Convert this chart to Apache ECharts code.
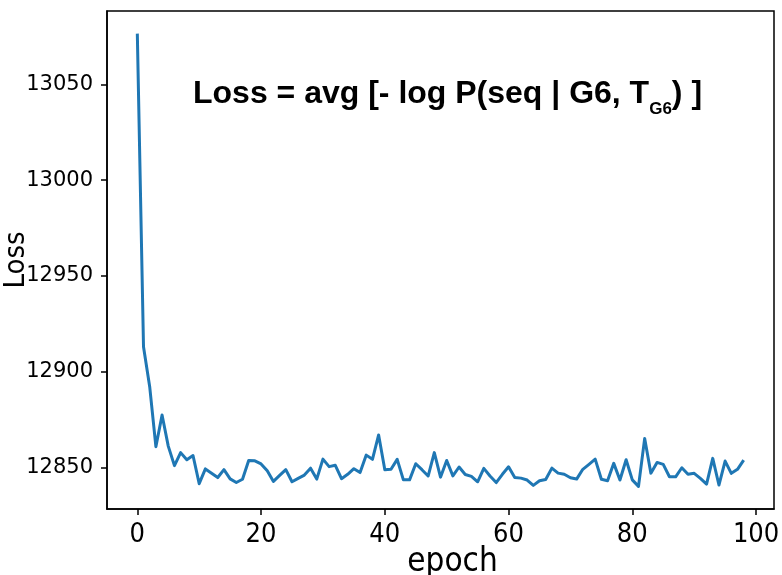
<!DOCTYPE html>
<html>
<head>
<meta charset="utf-8">
<script src="https://cdn.jsdelivr.net/npm/echarts@6/dist/echarts.min.js"></script>
<style>html,body{margin:0;padding:0;background:#fff}#c{width:782px;height:575px}</style>
</head>
<body>
<div id="c"></div>
<script>
var epochs = [];
for (var i = 0; i < 99; i++) epochs.push(i);
var lossValues = [
13076.4, 12913.1, 12892.3, 12861.0, 12877.5, 12861.3, 12851.1, 12857.9, 12854.2, 12856.4,
12841.7, 12849.4, 12847.2, 12844.9, 12849.0, 12844.2, 12842.3, 12844.0, 12853.8, 12853.6,
12852.0, 12848.4, 12842.9, 12846.0, 12849.0, 12842.7, 12844.5, 12846.2, 12849.8, 12844.1,
12854.5, 12850.6, 12851.3, 12844.3, 12846.6, 12849.5, 12847.5, 12856.6, 12854.4, 12867.1,
12849.0, 12849.2, 12854.4, 12843.7, 12843.7, 12852.1, 12849.0, 12845.7, 12857.9, 12845.1,
12853.8, 12845.8, 12850.4, 12846.5, 12845.5, 12842.7, 12849.7, 12845.7, 12842.3, 12846.6,
12850.5, 12844.9, 12844.6, 12843.6, 12840.8, 12843.2, 12843.9, 12849.8, 12847.2, 12846.6,
12844.8, 12844.1, 12849.2, 12851.8, 12854.5, 12844.0, 12843.2, 12852.3, 12843.6, 12854.2,
12843.7, 12840.3, 12865.3, 12847.2, 12852.8, 12851.8, 12845.3, 12845.3, 12850.0, 12846.6,
12847.1, 12844.5, 12841.5, 12854.9, 12841.0, 12853.5, 12847.1, 12849.2, 12854.0
];
var xTicks = [0, 20, 40, 60, 80, 100];
var yTicks = [12850, 12900, 12950, 13000, 13050];
var titleMain = 'Loss = avg [- log P(seq | G6, T';
var titleSub = 'G6';
var titleEnd = ') ]';

var seriesData = epochs.map(function (e, i) { return [e, lossValues[i]]; });
var FONT = '"Liberation Sans", Arial, sans-serif';
var NARROW = '"Liberation Sans Narrow", "Arial Narrow", "DejaVu Sans Condensed", sans-serif';
var WIDE = '"DejaVu Sans", Verdana, sans-serif';
var chart = echarts.init(document.getElementById('c'), null, {renderer: 'canvas'});
chart.setOption({
  animation: false,
  backgroundColor: '#fff',
  title: {
    text: '{m|' + titleMain + '}{s|' + titleSub + '}{m|' + titleEnd + '}',
    left: 193, top: 78, padding: 0,
    textStyle: {
      rich: {
        m: {fontFamily: FONT, fontWeight: 'bold', fontSize: 32, color: '#000', lineHeight: 40, verticalAlign: 'top'},
        s: {fontFamily: FONT, fontWeight: 'bold', fontSize: 17, color: '#000', lineHeight: 17, verticalAlign: 'bottom'}
      }
    }
  },
  grid: {left: 107, right: 8, top: 11, bottom: 66, show: true, borderColor: '#000', borderWidth: 1.5,
         containLabel: false, outerBoundsMode: 'none'},
  xAxis: {
    type: 'value', min: -4.9, max: 102.9,
    name: 'epoch', nameLocation: 'middle', nameGap: 37, nameMoveOverlap: false,
    nameTextStyle: {fontFamily: NARROW, fontSize: 33, color: '#000', padding: [0, 0, 0, 24]},
    axisLine: {show: true, onZero: false, lineStyle: {color: '#000', width: 1.5}},
    axisTick: {show: true, length: 6, lineStyle: {color: '#000', width: 1.5}, customValues: xTicks},
    axisLabel: {fontFamily: NARROW, fontSize: 27, color: '#000', margin: 12, customValues: xTicks,
                formatter: function (v) { return String(v); }},
    splitLine: {show: false}
  },
  yAxis: {
    type: 'value', min: 12828.5, max: 13088.2,
    name: 'Loss', nameLocation: 'middle', nameGap: 76, nameRotate: 90, nameMoveOverlap: false,
    nameTextStyle: {fontFamily: NARROW, fontSize: 29, color: '#000'},
    axisLine: {show: true, onZero: false, lineStyle: {color: '#000', width: 1.5}},
    axisTick: {show: true, length: 6, lineStyle: {color: '#000', width: 1.5}, customValues: yTicks},
    axisLabel: {fontFamily: WIDE, fontSize: 21, color: '#000', margin: 14, customValues: yTicks,
                formatter: function (v) { return String(v); }},
    splitLine: {show: false}
  },
  series: [{
    type: 'line', data: seriesData, showSymbol: false, symbol: 'none',
    lineStyle: {color: '#1f77b4', width: 3, join: 'round'}
  }]
});
</script>
</body>
</html>
